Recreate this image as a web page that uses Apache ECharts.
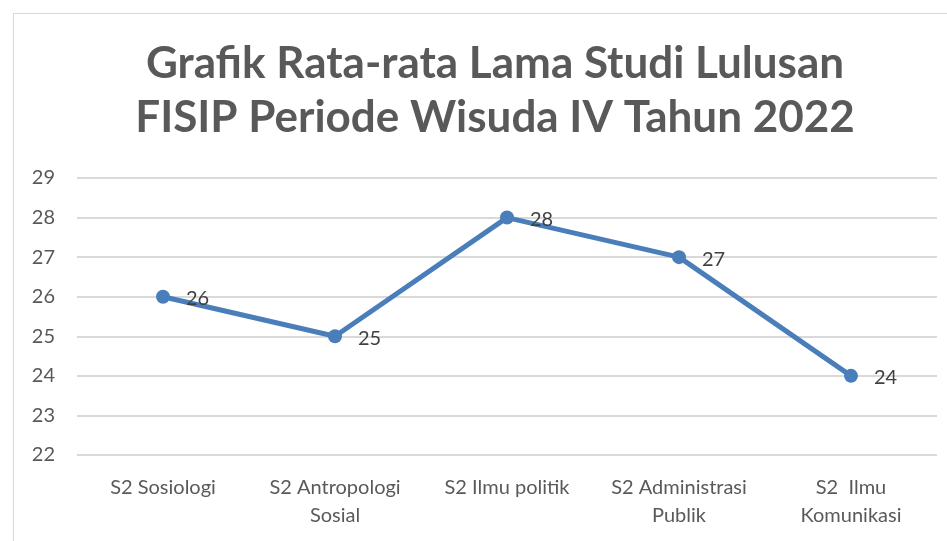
<!DOCTYPE html>
<html>
<head>
<meta charset="utf-8">
<script src="https://cdn.jsdelivr.net/npm/echarts@6/dist/echarts.min.js"></script>
<style>
html, body { margin: 0; padding: 0; background: #fff; }
#frame { position: absolute; left: 13px; top: 13px; width: 960px; height: 560px; border: 1px solid #d9d9d9; box-sizing: border-box; }
#chart { position: absolute; left: 0; top: 0; width: 947px; height: 541px; }
</style>
</head>
<body>
<div id="frame"></div>
<div id="chart"></div>
<script>
var categories = ['S2 Sosiologi', 'S2 Antropologi\nSosial', 'S2 Ilmu politik', 'S2 Administrasi\nPublik', 'S2  Ilmu\nKomunikasi'];
var values = [26, 25, 28, 27, 24];
var titleLines = 'Grafik Rata-rata Lama Studi Lulusan\nFISIP Periode Wisuda IV Tahun 2022';

var myChart = echarts.init(document.getElementById('chart'));
var option = {
    title: {
        text: titleLines,
        left: 490,
        top: 32,
        textAlign: 'center',
        textStyle: {
            fontFamily: 'Lato',
            fontSize: 44,
            fontWeight: 'bold',
            color: '#595959',
            lineHeight: 54
        }
    },
    grid: {
        left: 77,
        right: 10,
        top: 178,
        bottom: 86
    },
    xAxis: {
        type: 'category',
        data: categories,
        axisLine: { show: false },
        axisTick: { show: false },
        axisLabel: {
            interval: 0,
            hideOverlap: false,
            fontFamily: 'Lato',
            fontSize: 20,
            color: '#595959',
            lineHeight: 28,
            margin: 19
        }
    },
    yAxis: {
        type: 'value',
        min: 22,
        max: 29,
        interval: 1,
        axisLine: { show: false },
        axisTick: { show: false },
        axisLabel: {
            fontFamily: 'Lato',
            fontSize: 20,
            color: '#595959',
            margin: 22
        },
        splitLine: { lineStyle: { color: '#d9d9d9', width: 2 } }
    },
    series: [{
        type: 'line',
        data: values,
        symbol: 'circle',
        symbolSize: 14,
        lineStyle: { color: '#4a7ebb', width: 5 },
        itemStyle: { color: '#4a7ebb' },
        label: {
            show: true,
            position: 'right',
            distance: 16,
            offset: [0, 2],
            fontFamily: 'Lato',
            fontSize: 20,
            color: '#404040'
        },
        animation: false
    }]
};
myChart.setOption(option);
window.onresize = function () {
    myChart.resize();
};
</script>
</body>
</html>
